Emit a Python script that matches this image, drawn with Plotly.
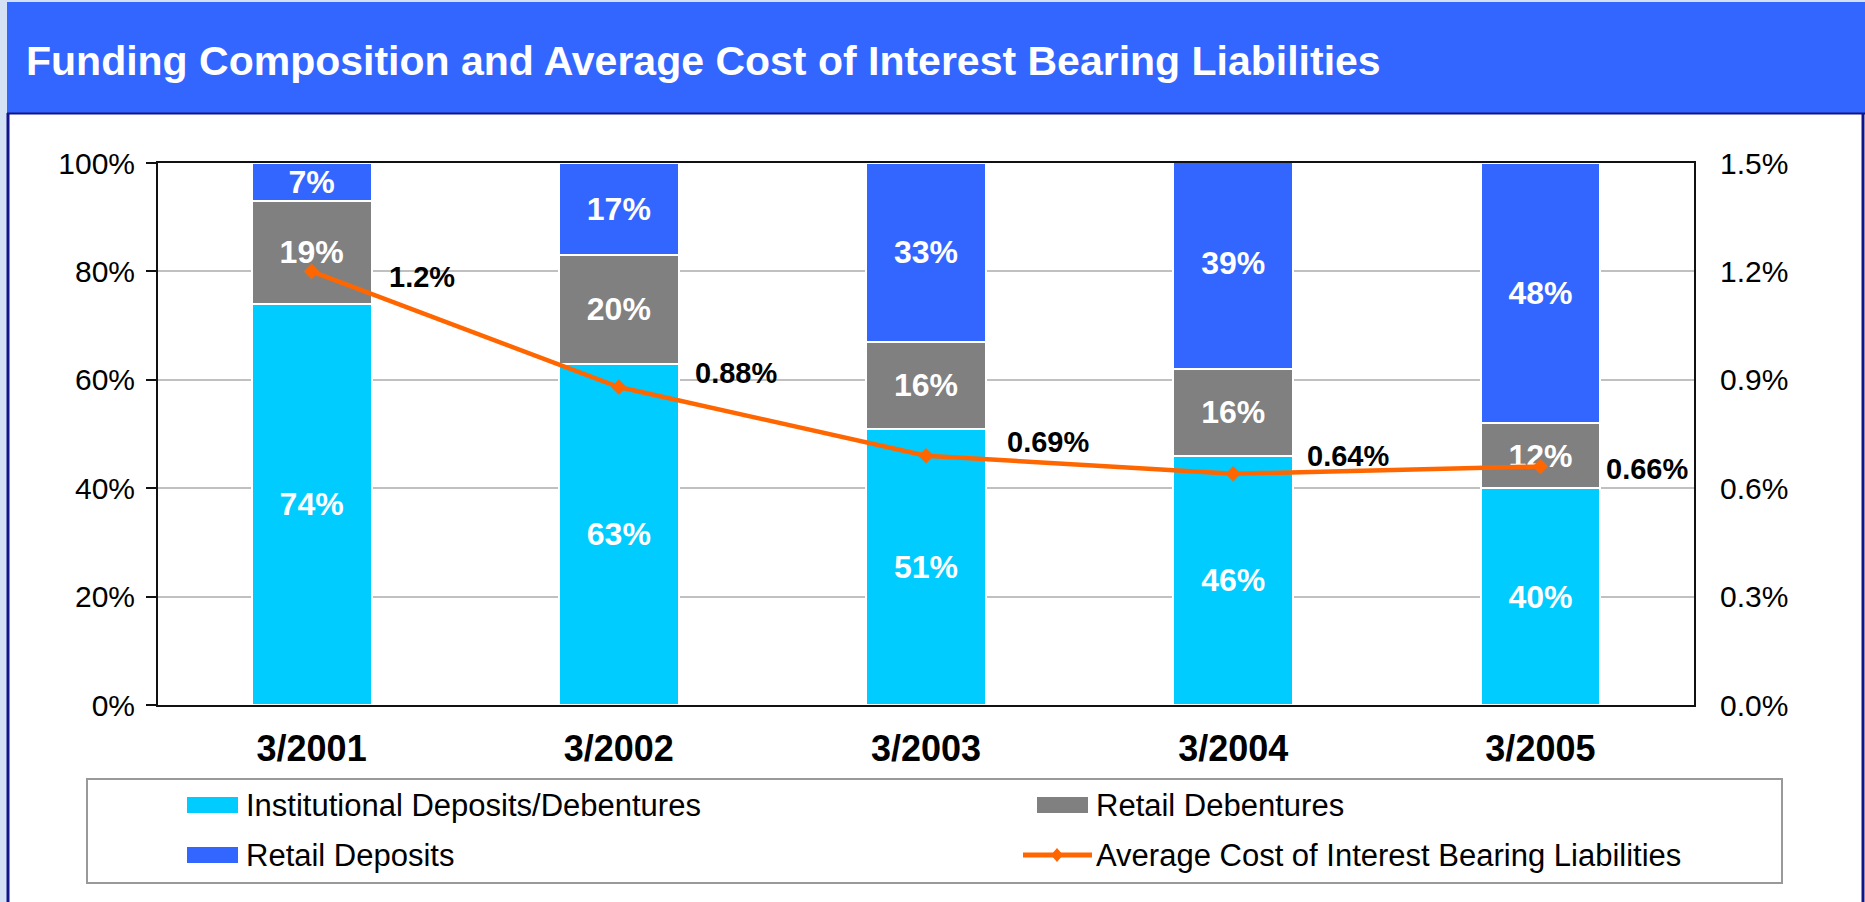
import plotly.graph_objects as go

categories = ["3/2001", "3/2002", "3/2003", "3/2004", "3/2005"]
institutional = [74, 63, 51, 46, 40]
retail_debentures = [19, 20, 16, 16, 12]
retail_deposits = [7, 17, 33, 39, 48]
avg_cost = [1.2, 0.88, 0.69, 0.64, 0.66]
avg_cost_labels = ["1.2%", "0.88%", "0.69%", "0.64%", "0.66%"]
left_ticks = [0, 20, 40, 60, 80, 100]
right_ticks = [0.0, 0.3, 0.6, 0.9, 1.2, 1.5]

W, H = 1865, 902
L, R, T, B = 158, 1694, 163, 705
PW, PH = R - L, B - T


def px(x):
    return (x - L) / PW


def py(y):
    return (B - y) / PH


FONT = "Arial, 'Liberation Sans', sans-serif"

C_INST = "#00CCFF"
C_DEB = "#808080"
C_DEP = "#3366FF"
C_LINE = "#FF6600"
NAVY = "#14148A"

fig = go.Figure()
for name, vals, col in [
    ("Institutional Deposits/Debentures", institutional, C_INST),
    ("Retail Debentures", retail_debentures, C_DEB),
    ("Retail Deposits", retail_deposits, C_DEP),
]:
    fig.add_trace(go.Bar(
        x=categories, y=vals, name=name,
        marker=dict(color=col, line=dict(color="white", width=2)),
        width=0.39,
        text=[f"{v}%" for v in vals],
        textposition="inside", insidetextanchor="middle", textangle=0,
        constraintext="none",
        textfont=dict(family=FONT, size=32, color="white", weight="bold"),
        hoverinfo="skip",
    ))

fig.add_trace(go.Scatter(
    x=categories, y=avg_cost, yaxis="y2", mode="lines+markers",
    name="Average Cost of Interest Bearing Liabilities",
    line=dict(color=C_LINE, width=4.5),
    marker=dict(symbol="diamond", size=12, color=C_LINE),
    hoverinfo="skip",
))

# line value labels
label_xshift = [75, 74, 79, 72, 64]
label_yshift = [-6, 14, 14, 18, -2]
annotations = []
for c, v, t, dx, dy in zip(categories, avg_cost, avg_cost_labels, label_xshift, label_yshift):
    annotations.append(dict(
        x=c, y=v, xref="x", yref="y2", text=t, showarrow=False,
        xanchor="left", yanchor="middle", xshift=dx, yshift=dy,
        font=dict(family=FONT, size=29, color="black", weight="bold"),
    ))

# title
annotations.append(dict(
    x=px(24), y=py(61), xref="paper", yref="paper", showarrow=False,
    xanchor="left", yanchor="middle",
    text="<b>Funding Composition and Average Cost of Interest Bearing Liabilities</b>",
    font=dict(family=FONT, size=41, color="white"),
))

shapes = []
# frame
shapes.append(dict(type="rect", xref="paper", yref="paper", layer="below",
                   x0=px(0), x1=px(7), y0=py(0), y1=py(H), fillcolor="#D4E0F4", line=dict(width=0)))
shapes.append(dict(type="rect", xref="paper", yref="paper", layer="below",
                   x0=px(0), x1=px(W), y0=py(0), y1=py(2), fillcolor="#D4E0F4", line=dict(width=0)))
shapes.append(dict(type="rect", xref="paper", yref="paper", layer="below",
                   x0=px(7), x1=px(W), y0=py(2), y1=py(113), fillcolor=C_DEP, line=dict(width=0)))
shapes.append(dict(type="line", xref="paper", yref="paper", layer="below",
                   x0=px(7), x1=px(W), y0=py(113.5), y1=py(113.5), line=dict(color=NAVY, width=2)))
shapes.append(dict(type="line", xref="paper", yref="paper", layer="below",
                   x0=px(8), x1=px(8), y0=py(113), y1=py(H), line=dict(color=NAVY, width=3)))
shapes.append(dict(type="line", xref="paper", yref="paper", layer="below",
                   x0=px(1863), x1=px(1863), y0=py(113), y1=py(H), line=dict(color=NAVY, width=3)))

# legend box
shapes.append(dict(type="rect", xref="paper", yref="paper",
                   x0=px(87), x1=px(1782), y0=py(779), y1=py(883),
                   fillcolor="white", line=dict(color="#999999", width=2)))
legend_items = [
    ("Institutional Deposits/Debentures", C_INST, 187, 805, "box"),
    ("Retail Debentures", C_DEB, 1037, 805, "box"),
    ("Retail Deposits", C_DEP, 187, 855, "box"),
    ("Average Cost of Interest Bearing Liabilities", C_LINE, 1037, 855, "line"),
]
for name, col, x0, yc, kind in legend_items:
    if kind == "box":
        shapes.append(dict(type="rect", xref="paper", yref="paper",
                           x0=px(x0), x1=px(x0 + 51), y0=py(yc - 8), y1=py(yc + 8),
                           fillcolor=col, line=dict(width=0)))
    else:
        shapes.append(dict(type="line", xref="paper", yref="paper",
                           x0=px(x0 - 14), x1=px(x0 + 55), y0=py(yc), y1=py(yc),
                           line=dict(color=col, width=5)))
        cx = x0 + 20
        shapes.append(dict(type="path", xref="paper", yref="paper",
                           path=f"M {px(cx - 6)} {py(yc)} L {px(cx)} {py(yc - 7)} L {px(cx + 6)} {py(yc)} L {px(cx)} {py(yc + 7)} Z",
                           fillcolor=col, line=dict(width=0)))
    annotations.append(dict(
        x=px(x0 + 57), y=py(yc), xref="paper", yref="paper", showarrow=False,
        xanchor="left", yanchor="middle", text=name,
        font=dict(family=FONT, size=31, color="black"),
    ))

fig.update_layout(
    width=W, height=H,
    margin=dict(l=L, r=W - R, t=T, b=H - B, pad=0),
    paper_bgcolor="white", plot_bgcolor="white",
    barmode="stack", showlegend=False,
    annotations=annotations, shapes=shapes,
    xaxis=dict(
        showline=True, mirror=True, linecolor="#111111", linewidth=2,
        ticks="", tickfont=dict(family=FONT, size=36, color="black", weight="bold"),
        ticklabelstandoff=11, showgrid=False,
    ),
    yaxis=dict(
        range=[0, 100], tickvals=left_ticks, ticktext=[f"{v}%" for v in left_ticks],
        showline=True, linecolor="#111111", linewidth=2,
        ticks="outside", ticklen=10, tickwidth=2, tickcolor="#111111",
        tickfont=dict(family=FONT, size=30, color="black"),
        ticklabelstandoff=5,
        showgrid=True, gridcolor="#C0C0C0", gridwidth=1.5, zeroline=False,
    ),
    yaxis2=dict(
        range=[0, 1.5], overlaying="y", side="right",
        tickvals=right_ticks, ticktext=[f"{v:.1f}%" for v in right_ticks],
        showline=True, linecolor="#111111", linewidth=2, ticks="",
        tickfont=dict(family=FONT, size=30, color="black"),
        ticklabelstandoff=18,
        showgrid=False, zeroline=False,
    ),
)

fig.write_html(
    "out.html",
    config={"displayModeBar": False},
    post_script="document.body.style.margin='0';document.body.style.overflow='hidden';",
)
